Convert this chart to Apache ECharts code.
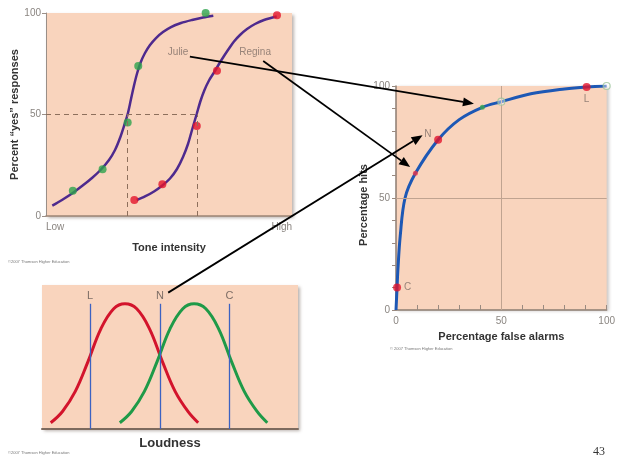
<!DOCTYPE html>
<html><head><meta charset="utf-8">
<script src="https://cdn.jsdelivr.net/npm/echarts@6/dist/echarts.min.js"></script>
<style>html,body{margin:0;padding:0;background:#fff}#c{width:618px;height:457px}</style>
</head><body><div id="c"></div>
<script>
// ---- Panel 1: psychometric functions ----
const toneTickLabels = ['Low', 'High'];
const percentTicks = [0, 50, 100];
const julieCurve = [[2.56,5.07],[6.50,7.88],[10.57,11.08],[14.63,14.78],[18.70,18.72],[22.36,22.91],[25.61,27.59],[28.05,32.51],[30.08,38.42],[31.71,44.33],[33.21,50.25],[34.47,57.14],[35.73,64.04],[37.07,70.44],[38.54,75.86],[40.24,80.30],[42.28,84.24],[44.72,87.68],[47.56,90.64],[50.81,93.10],[54.88,95.07],[59.35,96.55],[63.82,97.78],[68.01,98.67]];
const reginaCurve = [[36.87,7.88],[40.24,9.61],[43.90,12.07],[47.28,15.02],[50.41,18.47],[53.25,23.15],[55.69,29.06],[57.72,35.47],[59.35,42.36],[61.26,50.25],[62.80,56.65],[64.43,62.07],[66.26,66.75],[68.29,70.69],[70.33,74.88],[72.36,78.82],[74.39,82.51],[76.42,85.96],[78.86,89.16],[81.71,92.12],[84.96,94.58],[88.62,96.55],[93.78,98.28]];
const julieDots = [[10.9,12.5],[23.0,23.0],[33.2,46.0],[37.5,73.9],[64.9,100]];
const reginaDots = [[35.9,7.9],[47.3,15.6],[61.3,44.3],[69.5,71.6],[93.9,98.9]];
const thresholdX = [33.2, 61.3];
const thresholdLevel = 50;
const observerNames = ['Julie', 'Regina'];
const observerLabelPos = [[53.7, 80.8], [85, 80.8]];

// ---- Panel 2: ROC curve ----
const rocTicks = [0, 50, 100];
const rocCurve = [[0,0],[0.5,10],[0.9,18],[2,33],[4.3,50],[9.2,61],[20,76],[30,85],[41,90.5],[50,93],[64,96.5],[80,98.7],[90.5,99.6],[100,100]];
const rocCriterionPts = [[0.5,10],[20,76],[90.5,99.6]];
const rocCriterionNames = ['C','N','L'];
const rocReginaPt = [9.2, 61];
const rocJuliePt = [41, 90.5];
const rocOpenPts = [[50,93],[100,100]];

// ---- Panel 3: loudness distributions ----
const noiseX = [3.4, 8, 13, 18, 23, 28, 32.4, 37, 42, 47, 52, 57, 61];
const noiseY = [5, 14, 30, 54, 80, 96, 100, 96, 80, 54, 30, 14, 5];
const signalX = [30.4, 35, 40, 45, 50, 55, 59.4, 64, 69, 74, 79, 84, 88];
const signalY = [5, 14, 30, 54, 80, 96, 100, 96, 80, 54, 30, 14, 5];
const criteriaNames = ['L', 'N', 'C'];
const criteriaX = [18.75, 46.1, 73.2];

const FONT = '"Liberation Sans", Arial, sans-serif';
const PEACH = '#f9d4bd';
const nameStyle = {fontFamily: FONT, fontWeight: 'bold', fontSize: 11, color: '#333'};
const tickLbl = {fontFamily: FONT, fontSize: 10, color: '#8a8580'};

const chart = echarts.init(document.getElementById('c'), null, {renderer: 'canvas'});
const zip = (xs, ys) => xs.map((x, i) => [x, ys[i]]);

const option = {
  animation: false,
  backgroundColor: '#fff',
  grid: [
    {left: 46, top: 13, width: 246, height: 203, show: true, backgroundColor: PEACH, borderWidth: 0,
     shadowColor: 'rgba(60,40,30,0.35)', shadowBlur: 3, shadowOffsetX: 2, shadowOffsetY: 2},
    {left: 396, top: 86, width: 214, height: 224, show: true, backgroundColor: PEACH, borderWidth: 0,
     shadowColor: 'rgba(60,40,30,0.25)', shadowBlur: 3, shadowOffsetX: 2, shadowOffsetY: 1},
    {left: 42, top: 285, width: 256, height: 144, show: true, backgroundColor: PEACH, borderWidth: 0,
     shadowColor: 'rgba(60,40,30,0.35)', shadowBlur: 3, shadowOffsetX: 2, shadowOffsetY: 2}
  ],
  xAxis: [
    {gridIndex: 0, type: 'value', min: 0, max: 100, interval: 100,
     name: 'Tone intensity', nameLocation: 'middle', nameGap: 26, nameTextStyle: nameStyle,
     axisLine: {lineStyle: {color: '#9c8474', width: 1.5}}, axisTick: {show: false}, splitLine: {show: false},
     axisLabel: Object.assign({}, tickLbl, {margin: 6, alignMinLabel: 'left', alignMaxLabel: 'right',
       formatter: v => v === 0 ? toneTickLabels[0] : (v === 100 ? toneTickLabels[1] : '')})},
    {gridIndex: 1, type: 'value', min: 0, max: 100, interval: 50,
     name: 'Percentage false alarms', nameLocation: 'middle', nameGap: 21, nameTextStyle: nameStyle,
     axisLine: {lineStyle: {color: '#8c7d72', width: 1.5}},
     axisTick: {show: true, inside: true, length: 5, lineStyle: {color: '#9a8a80'}},
     minorTick: {show: true, splitNumber: 5, length: 5, lineStyle: {color: '#9a8a80'}},
     splitLine: {show: false},
     axisLabel: Object.assign({}, tickLbl, {margin: 6, formatter: v => rocTicks.includes(v) ? String(v) : ''})},
    {gridIndex: 2, type: 'value', min: 0, max: 100,
     name: 'Loudness', nameLocation: 'middle', nameGap: 8,
     nameTextStyle: {fontFamily: FONT, fontWeight: 'bold', fontSize: 13, color: '#333'},
     axisLine: {lineStyle: {color: '#7d6a5e', width: 2}}, axisTick: {show: false},
     axisLabel: {show: false}, splitLine: {show: false}}
  ],
  yAxis: [
    {gridIndex: 0, type: 'value', min: 0, max: 100, interval: 50,
     name: 'Percent \u201cyes\u201d responses', nameLocation: 'middle', nameGap: 26, nameTextStyle: nameStyle,
     axisLine: {show: true, lineStyle: {color: '#9a8f88', width: 1}},
     axisTick: {show: true, length: 4, lineStyle: {color: '#9a8f88'}}, splitLine: {show: false},
     axisLabel: Object.assign({}, tickLbl, {margin: 5, formatter: v => percentTicks.includes(v) ? String(v) : ''})},
    {gridIndex: 1, type: 'value', min: 0, max: 100, interval: 50,
     name: 'Percentage hits', nameLocation: 'middle', nameGap: 21,
     nameTextStyle: Object.assign({}, nameStyle, {padding: [0, 14, 0, 0]}),
     axisLine: {show: true, lineStyle: {color: '#8c7d72', width: 1.5}},
     axisTick: {show: true, length: 4, lineStyle: {color: '#9a8a80'}},
     minorTick: {show: true, splitNumber: 5, length: 4, lineStyle: {color: '#9a8a80'}},
     splitLine: {show: false},
     axisLabel: Object.assign({}, tickLbl, {margin: 6, formatter: v => rocTicks.includes(v) ? String(v) : ''})},
    {gridIndex: 2, type: 'value', min: 0, max: 115, show: false, splitLine: {show: false}}
  ],
  series: [
    // Panel 1
    {type: 'line', xAxisIndex: 0, yAxisIndex: 0, data: julieCurve, smooth: 0.3, symbol: 'none',
     lineStyle: {color: '#4e2a8e', width: 2.5}, z: 3,
     markLine: {silent: true, symbol: 'none', label: {show: false},
       lineStyle: {color: '#8d6f5c', type: [5, 4], width: 1},
       data: [
         [{coord: [0, thresholdLevel]}, {coord: [thresholdX[1], thresholdLevel]}],
         [{coord: [thresholdX[0], 0]}, {coord: [thresholdX[0], thresholdLevel]}],
         [{coord: [thresholdX[1], 0]}, {coord: [thresholdX[1], thresholdLevel]}]
       ]}},
    {type: 'line', xAxisIndex: 0, yAxisIndex: 0, data: reginaCurve, smooth: 0.3, symbol: 'none',
     lineStyle: {color: '#4e2a8e', width: 2.5}, z: 3},
    {type: 'scatter', xAxisIndex: 0, yAxisIndex: 0, data: julieDots, symbolSize: 8,
     itemStyle: {color: '#2da24c'}, z: 4},
    {type: 'scatter', xAxisIndex: 0, yAxisIndex: 0, data: reginaDots, symbolSize: 8,
     itemStyle: {color: '#e3142c'}, z: 4},
    {type: 'scatter', xAxisIndex: 0, yAxisIndex: 0, symbolSize: 0,
     data: observerNames.map((n, i) => ({name: n, value: observerLabelPos[i]})),
     label: {show: true, position: 'inside', formatter: '{b}', fontFamily: FONT, fontSize: 10, color: '#7e6e66'}},
    // Panel 2
    {type: 'line', xAxisIndex: 1, yAxisIndex: 1, data: rocCurve, smooth: 0.35, symbol: 'none',
     lineStyle: {color: '#1d58b5', width: 3}, z: 3,
     markLine: {silent: true, symbol: 'none', label: {show: false},
       lineStyle: {color: '#c0a390', type: 'solid', width: 1},
       data: [{xAxis: 50}, {yAxis: 50}]}},
    {type: 'scatter', xAxisIndex: 1, yAxisIndex: 1, symbolSize: 8, z: 5,
     itemStyle: {color: '#e3142c'},
     data: rocCriterionPts.map((p, i) => ({name: rocCriterionNames[i], value: p,
       label: i === 0 ? {position: 'right', distance: 3} : (i === 1 ? {position: [-10, -7]} : {position: 'bottom', distance: 3})})),
     label: {show: true, formatter: '{b}', fontFamily: FONT, fontSize: 10, color: '#7e6e66'}},
    {type: 'scatter', xAxisIndex: 1, yAxisIndex: 1, symbolSize: 5, z: 5,
     data: [{value: rocReginaPt, itemStyle: {color: '#e8364a'}}, {value: rocJuliePt, itemStyle: {color: '#3aa653'}}]},
    {type: 'scatter', xAxisIndex: 1, yAxisIndex: 1, symbolSize: 7, z: 5, data: rocOpenPts,
     itemStyle: {color: 'rgba(255,255,255,0.5)', borderColor: '#9cc49a', borderWidth: 1.2}},
    // Panel 3
    {type: 'line', xAxisIndex: 2, yAxisIndex: 2, data: zip(noiseX, noiseY), smooth: 0.4, symbol: 'none',
     lineStyle: {color: '#d3142c', width: 3}, z: 3,
     markLine: {silent: true, symbol: 'none',
       lineStyle: {color: '#3c62c2', type: 'solid', width: 1.3},
       label: {show: true, position: 'end', distance: 2, formatter: '{b}', fontFamily: FONT, fontSize: 11, color: '#7e6e66'},
       data: criteriaX.map((x, i) => [{name: criteriaNames[i], coord: [x, 0]}, {coord: [x, 100]}])}},
    {type: 'line', xAxisIndex: 2, yAxisIndex: 2, data: zip(signalX, signalY), smooth: 0.4, symbol: 'none',
     lineStyle: {color: '#1f9a48', width: 3}, z: 3}
  ]
};
chart.setOption(option);

// Annotation arrows linking the panels
function arrow(p0, p1) {
  const dx = p1[0] - p0[0], dy = p1[1] - p0[1];
  const L = Math.hypot(dx, dy), ux = dx / L, uy = dy / L;
  const hl = 11, hw = 4.5;
  const bx = p1[0] - ux * hl, by = p1[1] - uy * hl;
  return [
    {type: 'line', z: 100, shape: {x1: p0[0], y1: p0[1], x2: bx, y2: by}, style: {stroke: '#000', lineWidth: 1.8}},
    {type: 'polygon', z: 100, shape: {points: [[p1[0], p1[1]], [bx - uy * hw, by + ux * hw], [bx + uy * hw, by - ux * hw]]}, style: {fill: '#000'}}
  ];
}
const px = (g, v) => chart.convertToPixel({gridIndex: g}, v);
const arrows = [].concat(
  arrow(px(0, [58.5, 78.5]), px(1, [37, 92.1])),
  arrow(px(0, [88.3, 76.4]), px(1, [6.7, 63.8])),
  arrow(px(2, [49.3, 108.9]), px(1, [12.6, 78]))
);
const tiny = {fontFamily: FONT, fontSize: 4, fill: '#777'};
chart.setOption({graphic: arrows.concat([
  {type: 'text', left: 8, top: 260, style: Object.assign({text: '\u00a92007 Thomson Higher Education'}, tiny)},
  {type: 'text', left: 390, top: 347, style: Object.assign({text: '\u00a9 2007 Thomson Higher Education'}, tiny)},
  {type: 'text', left: 8, top: 451, style: Object.assign({text: '\u00a92007 Thomson Higher Education'}, tiny)},
  {type: 'text', left: 593, top: 446, style: {text: '43', fontFamily: '"Liberation Serif", serif', fontSize: 12, fill: '#333'}}
])});
</script>
</body></html>
